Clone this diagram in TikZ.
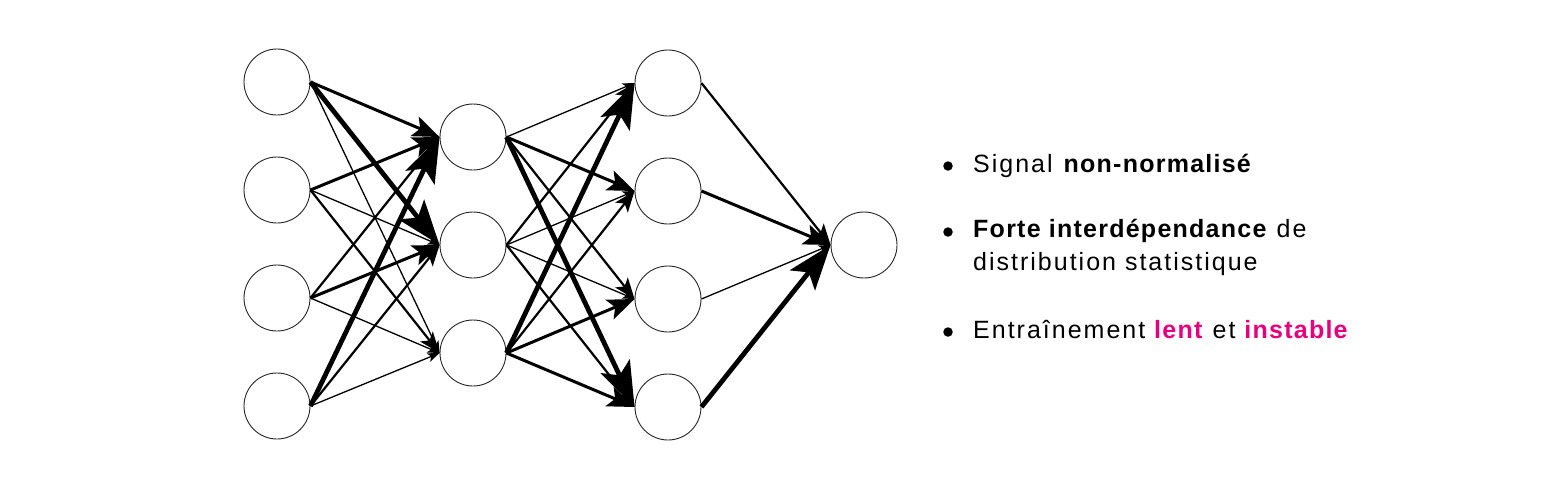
\documentclass[tikz,border=0pt]{standalone}
\usepackage{fontspec}
\setmainfont{Liberation Sans}[LetterSpace=8,BoldFeatures={LetterSpace=5}]
\usetikzlibrary{arrows.meta}
\definecolor{hotpink}{RGB}{230,0,126}
\tikzset{
  neuron/.style={circle, draw=black!85, line width=0.9pt, minimum size=66pt, inner sep=0pt},
  ea/.style={line width=1.3pt, -{Stealth[length=12pt,width=9pt,inset=3pt]}},
  eb/.style={line width=2.2pt, -{Stealth[length=21pt,width=16pt,inset=5pt]}},
  ec/.style={line width=3pt, -{Stealth[length=27pt,width=21pt,inset=6pt]}},
  ed/.style={line width=4.8pt, -{Stealth[length=45pt,width=32pt,inset=10pt]}},
  bulletdot/.style={circle, fill=black, minimum size=9.5pt, inner sep=0pt},
  itemtext/.style={anchor=base west, inner sep=0pt, font=\fontsize{25}{30}\selectfont},
}
\begin{document}
\begin{tikzpicture}[x=1pt,y=-1pt]
\useasboundingbox (0,0) rectangle (1565,490);
% layer 1
\node[neuron] (a1) at (277,82) {};
\node[neuron] (a2) at (277,190) {};
\node[neuron] (a3) at (277,298) {};
\node[neuron] (a4) at (277,406) {};
% layer 2
\node[neuron] (b1) at (473,137) {};
\node[neuron] (b2) at (473,245) {};
\node[neuron] (b3) at (473,353) {};
% layer 3
\node[neuron] (c1) at (668,83) {};
\node[neuron] (c2) at (668,191) {};
\node[neuron] (c3) at (668,299) {};
\node[neuron] (c4) at (668,407) {};
% output
\node[neuron] (o) at (864,245) {};
% edges layer 1 -> 2
\draw[ec] (a1.east) -- (b1.west);
\draw[ed] (a1.east) -- (b2.west);
\draw[ea] (a1.east) -- (b3.west);
\draw[ec] (a2.east) -- (b1.west);
\draw[ea] (a2.east) -- (b2.west);
\draw[eb] (a2.east) -- (b3.west);
\draw[eb] (a3.east) -- (b1.west);
\draw[ec] (a3.east) -- (b2.west);
\draw[ea] (a3.east) -- (b3.west);
\draw[ed] (a4.east) -- (b1.west);
\draw[eb] (a4.east) -- (b2.west);
\draw[ea] (a4.east) -- (b3.west);
% edges layer 2 -> 3
\draw[ea] (b1.east) -- (c1.west);
\draw[ec] (b1.east) -- (c2.west);
\draw[eb] (b1.east) -- (c3.west);
\draw[ed] (b1.east) -- (c4.west);
\draw[eb] (b2.east) -- (c1.west);
\draw[ea] (b2.east) -- (c2.west);
\draw[ea] (b2.east) -- (c3.west);
\draw[eb] (b2.east) -- (c4.west);
\draw[ed] (b3.east) -- (c1.west);
\draw[eb] (b3.east) -- (c2.west);
\draw[ec] (b3.east) -- (c3.west);
\draw[ec] (b3.east) -- (c4.west);
% edges layer 3 -> output
\draw[eb] (c1.east) -- (o.west);
\draw[ec] (c2.east) -- (o.west);
\draw[ea] (c3.east) -- (o.west);
\draw[ed] (c4.east) -- (o.west);
% text
\node[bulletdot] (d1) at (948,166) {};
\node[itemtext] (t1) at (973,172) {Signal \textbf{non-normalisé}};
\node[bulletdot] (d2) at (948,232) {};
\node[itemtext] (t2) at (973,237) {\textbf{Forte interdépendance} de};
\node[itemtext] (t2b) at (973,270) {distribution statistique};
\node[bulletdot] (d3) at (948,332) {};
\node[itemtext] (t3) at (973,338) {Entraînement \textcolor{hotpink}{\textbf{lent}} et \textcolor{hotpink}{\textbf{instable}}};
\end{tikzpicture}
\end{document}
